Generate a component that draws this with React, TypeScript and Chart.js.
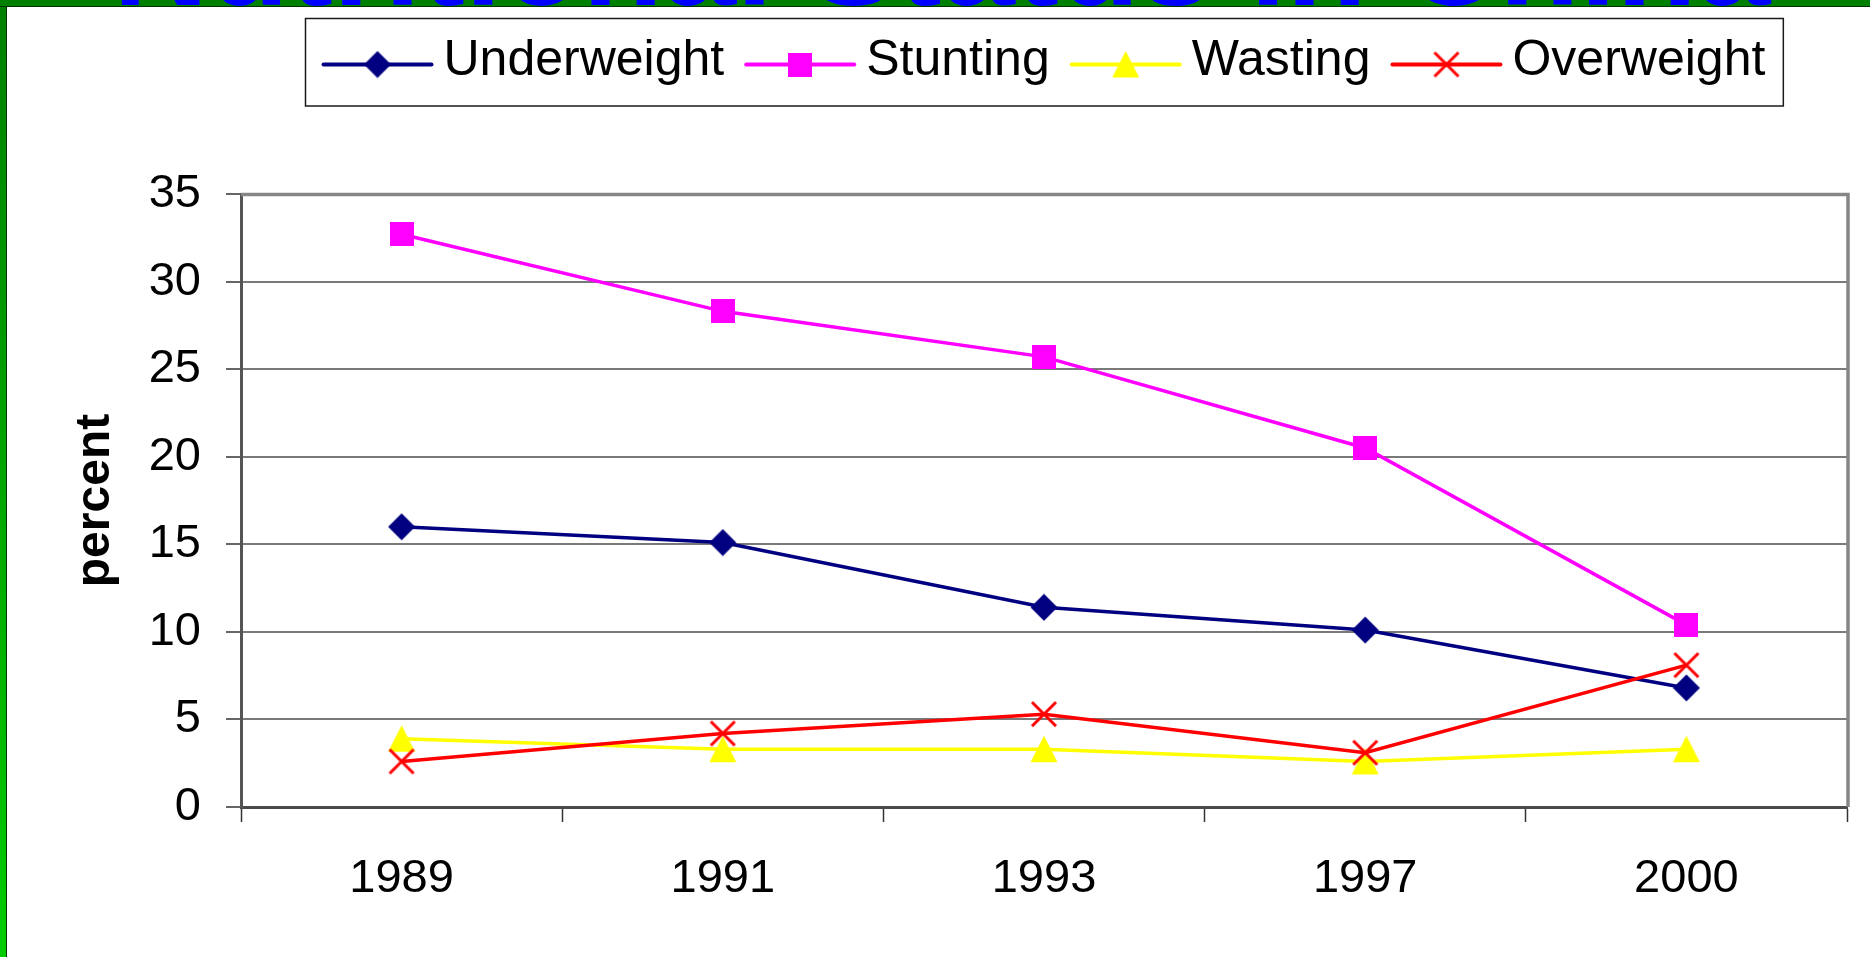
import React, { useEffect, useRef } from 'react';
import { Chart, registerables } from 'chart.js';

Chart.register(...registerables);

// ---- data ----
const years = ['1989', '1991', '1993', '1997', '2000'];
const seriesNames = ['Underweight', 'Stunting', 'Wasting', 'Overweight'];
const underweight = [16.0, 15.1, 11.4, 10.1, 6.8];
const stunting = [32.7, 28.3, 25.7, 20.5, 10.4];
const wasting = [3.9, 3.3, 3.3, 2.6, 3.3];
const overweight = [2.6, 4.2, 5.3, 3.1, 8.1];
const yMin = 0;
const yMax = 35;
const yStep = 5;
const yAxisTitle = 'percent';
const pageTitle = 'Nutritional Status in China';

const FONT = '"Liberation Sans", Arial, Helvetica, sans-serif';
const colors = ['#000080', '#FF00FF', '#FFFF00', '#FF0000'];

function makeMarker(kind: string, color: string): HTMLCanvasElement {
  const c = document.createElement('canvas');
  const ctx = c.getContext('2d')!;
  if (kind === 'diamond') {
    c.width = 28; c.height = 28;
    ctx.fillStyle = color;
    ctx.beginPath();
    ctx.moveTo(0.5, 14); ctx.lineTo(14, 0.5); ctx.lineTo(27.5, 14); ctx.lineTo(14, 27.5);
    ctx.closePath(); ctx.fill();
  } else if (kind === 'square') {
    c.width = 24; c.height = 24;
    ctx.fillStyle = color;
    ctx.fillRect(0, 0, 24, 24);
  } else if (kind === 'triangle') {
    c.width = 28; c.height = 28;
    ctx.fillStyle = color;
    ctx.beginPath();
    ctx.moveTo(14, 0.5); ctx.lineTo(27.5, 27); ctx.lineTo(0.5, 27);
    ctx.closePath(); ctx.fill();
  } else {
    c.width = 30; c.height = 30;
    ctx.strokeStyle = color; ctx.lineWidth = 3;
    ctx.beginPath();
    ctx.moveTo(3, 3); ctx.lineTo(27, 27);
    ctx.moveTo(27, 3); ctx.lineTo(3, 27);
    ctx.stroke();
  }
  return c;
}

const plotFramePlugin = {
  id: 'plotFrame',
  beforeDatasetsDraw(chart: any) {
    const { ctx, chartArea: ca } = chart;
    ctx.save();
    ctx.strokeStyle = '#868686';
    ctx.lineWidth = 3.5;
    ctx.beginPath();
    ctx.moveTo(ca.left, ca.top + 0.5);
    ctx.lineTo(ca.right + 1, ca.top + 0.5);
    ctx.lineTo(ca.right + 1, ca.bottom);
    ctx.stroke();
    ctx.restore();
  },
};

const boxLegendPlugin = {
  id: 'boxLegend',
  afterDraw(chart: any) {
    const { ctx, chartArea: ca } = chart;
    ctx.save();
    ctx.font = `50px ${FONT}`;
    const dss = chart.data.datasets;
    const widths = dss.map((d: any) => ctx.measureText(d.label).width);
    const lineLen = 108, gapText = 12, gapItem = 22, pad = 18;
    let total = pad * 2 + gapItem * (dss.length - 1);
    widths.forEach((w: number) => { total += lineLen + gapText + w; });
    const cx = (ca.left + ca.right) / 2;
    const boxL = Math.round(cx - total / 2) + 0.5;
    const boxT = 18.5, boxB = 106;
    ctx.fillStyle = '#ffffff';
    ctx.fillRect(boxL, boxT, total, boxB - boxT);
    ctx.strokeStyle = '#1a1a1a';
    ctx.lineWidth = 1.5;
    ctx.strokeRect(boxL, boxT, total, boxB - boxT);
    const cy = 64.5;
    let x = boxL + pad;
    dss.forEach((d: any, i: number) => {
      ctx.strokeStyle = d.borderColor;
      ctx.lineWidth = 4;
      ctx.lineCap = 'round';
      ctx.beginPath();
      ctx.moveTo(x, cy);
      ctx.lineTo(x + lineLen, cy);
      ctx.stroke();
      const m: HTMLCanvasElement = d.pointStyle;
      ctx.drawImage(m, x + lineLen / 2 - m.width / 2, cy - m.height / 2);
      ctx.fillStyle = '#000';
      ctx.textAlign = 'left';
      ctx.textBaseline = 'alphabetic';
      ctx.fillText(d.label, x + lineLen + gapText, 75);
      x += lineLen + gapText + widths[i] + gapItem;
    });
    ctx.restore();
  },
};

export default function App() {
  const ref = useRef<HTMLCanvasElement>(null);

  useEffect(() => {
    document.body.style.margin = '0';
    const markers = [
      makeMarker('diamond', colors[0]),
      makeMarker('square', colors[1]),
      makeMarker('triangle', colors[2]),
      makeMarker('cross', colors[3]),
    ];
    const series = [underweight, stunting, wasting, overweight];
    const chart = new Chart(ref.current!, {
      type: 'line',
      data: {
        labels: years,
        datasets: series.map((vals, i) => ({
          label: seriesNames[i],
          data: vals,
          borderColor: colors[i],
          backgroundColor: colors[i],
          borderWidth: 3.5,
          pointStyle: markers[i] as any,
          pointRadius: 14,
          pointHoverRadius: 14,
          tension: 0,
          fill: false,
          order: 3 - i,
        })),
      },
      options: {
        responsive: false,
        animation: false,
        devicePixelRatio: 1,
        layout: { padding: { top: 194, right: 23, bottom: 0, left: 0 } },
        plugins: {
          legend: { display: false },
          tooltip: { enabled: false },
          title: { display: false },
        },
        scales: {
          x: {
            offset: true,
            grid: {
              display: true,
              drawOnChartArea: false,
              offset: true,
              tickLength: 15,
              tickColor: '#333333',
              tickWidth: 1.5,
            },
            border: { display: true, color: '#4a4a4a', width: 3 },
            ticks: {
              color: '#000',
              font: { family: FONT, size: 47 },
              padding: 29,
              maxRotation: 0,
              autoSkip: false,
            },
            afterFit(scale: any) { scale.height = 150; },
          },
          y: {
            min: yMin,
            max: yMax,
            ticks: {
              stepSize: yStep,
              color: '#000',
              font: { family: FONT, size: 47 },
              padding: 25,
            },
            grid: {
              color: '#7a7a7a',
              lineWidth: 2,
              tickLength: 15,
              tickColor: '#333333',
              tickWidth: 1.5,
            },
            border: { display: true, color: '#555555', width: 3 },
            title: {
              display: true,
              text: yAxisTitle,
              color: '#000',
              font: { family: FONT, size: 48, weight: 'bold' },
              padding: { top: 67, bottom: 0 },
            },
            afterFit(scale: any) { scale.width = 241; },
          },
        },
      },
      plugins: [plotFramePlugin, boxLegendPlugin],
    });
    return () => chart.destroy();
  }, []);

  return (
    <div style={{ position: 'relative', width: 1870, height: 957, background: '#fff', overflow: 'hidden' }}>
      <canvas ref={ref} width={1870} height={957} style={{ position: 'absolute', left: 0, top: 0, width: 1870, height: 957 }} />
      <div
        style={{
          position: 'absolute', left: 0, top: 0, width: 6, height: 957,
          background: 'linear-gradient(#008000, #00cc00)',
          borderRight: '1px solid #003300',
        }}
      />
      <div
        style={{
          position: 'absolute', left: 0, top: 0, width: 1870, height: 7,
          background: '#008000', overflow: 'hidden',
          borderBottom: '1px solid #003300', boxSizing: 'border-box',
        }}
      >
        <div
          style={{
            position: 'absolute', left: 113, top: -106,
            font: `bold 132px ${FONT}`, lineHeight: 1, color: '#0000ff',
            whiteSpace: 'nowrap',
          }}
        >
          {pageTitle}
        </div>
      </div>
    </div>
  );
}
